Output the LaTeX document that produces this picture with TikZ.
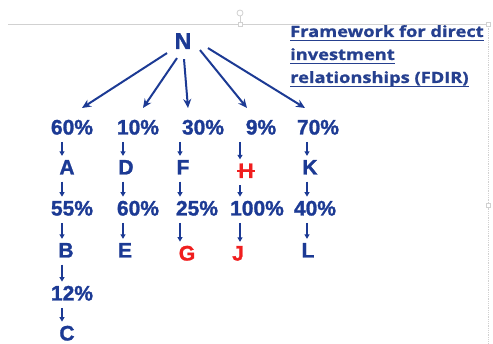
\documentclass[tikz,border=0pt]{standalone}
\usepackage{fontspec}
\setmainfont{Liberation Sans}[BoldFeatures={FakeBold=1.3}]
\newfontfamily\titlefont{Open Sans}[BoldFeatures={FakeBold=1}]
\usetikzlibrary{arrows.meta}
\definecolor{dblue}{HTML}{1C3A94}
\definecolor{tblue}{HTML}{26408F}
\definecolor{rred}{HTML}{F01E1E}
\tikzset{
  lbl/.style={font=\fontsize{21}{21}\selectfont\bfseries, text=dblue, inner sep=0pt, anchor=base},
  rlbl/.style={lbl, text=rred},
  bigarr/.style={draw=dblue, line width=2pt, -{Stealth[length=9pt,width=8pt]}},
  sarr/.style={draw=dblue, line width=1.1pt, -{Triangle[length=4.5pt,width=5pt]}, shorten <=7pt, shorten >=4pt},
  ttl/.style={font=\titlefont\fontsize{15.5}{15.5}\selectfont\bfseries, text=tblue, inner sep=0pt, anchor=base west},
  uline/.style={draw=tblue, line width=1.3pt},
  deco/.style={draw=black!18, line width=0.8pt}
}
\begin{document}
\begin{tikzpicture}[x=1pt,y=-1pt]
\useasboundingbox (0,0) rectangle (493,344);
% screenshot selection frame
\draw[deco] (8,24) -- (490,24);
\draw[deco, densely dotted] (488,24) -- (488,344);
\draw[deco] (240,24) -- (240,16);
\draw[deco, fill=white] (240,13) circle (3);
\draw[deco, fill=white] (238,22) rectangle (242,26);
\draw[deco, fill=white] (486,22) rectangle (490,26);
\draw[deco, fill=white] (486,203) rectangle (490,207);
% title
\node[ttl] (t1) at (290,37) {\scalebox{1.18}[1]{Framework for direct}};
\node[ttl] (t2) at (290,60) {\scalebox{1.18}[1]{investment}};
\node[ttl] (t3) at (290,83) {\scalebox{1.18}[1]{relationships (FDIR)}};
\draw[uline] ([yshift=-3.5pt]t1.base west) -- ([yshift=-3.5pt]t1.base east);
\draw[uline] ([yshift=-3.5pt]t2.base west) -- ([yshift=-3.5pt]t2.base east);
\draw[uline] ([yshift=-3.5pt]t3.base west) -- ([yshift=-3.5pt]t3.base east);
% root
\node[lbl, font=\fontsize{23}{23}\selectfont\bfseries] (N) at (183,49) {N};
\coordinate (e1) at (82,108);
\coordinate (e2) at (143,108);
\coordinate (e3) at (188,108);
\coordinate (e4) at (247,108);
\coordinate (e5) at (305,108);
% column x
\coordinate (c1) at (62,0);
\coordinate (c2) at (123,0);
\coordinate (c3) at (180,0);
\coordinate (c4) at (240,0);
\coordinate (c5) at (307,0);
% row 1
\node[lbl] (p1) at (72,134.5) {60\%};
\node[lbl] (p2) at (138,134.5) {10\%};
\node[lbl] (p3) at (203,134.5) {30\%};
\node[lbl] (p4) at (261,134.5) {9\%};
\node[lbl] (p5) at (318,134.5) {70\%};
% letters
\node[lbl] (A) at (67,174.5) {A};
\node[lbl] (D) at (126,174.5) {D};
\node[lbl] (F) at (183,174.5) {F};
\node[rlbl] (H) at (246,178) {H};
\node[lbl] (K) at (310,174.5) {K};
% row 2
\node[lbl] (q1) at (72,215.5) {55\%};
\node[lbl] (q2) at (138,215.5) {60\%};
\node[lbl] (q3) at (197,215.5) {25\%};
\node[lbl] (q4) at (257,215.5) {100\%};
\node[lbl] (q5) at (315,215.5) {40\%};
% row 3
\node[lbl] (B) at (66,257.5) {B};
\node[lbl] (E) at (125,257.5) {E};
\node[rlbl] (G) at (187,260.5) {G};
\node[rlbl] (J) at (238,260.5) {J};
\node[lbl] (L) at (308,257.5) {L};
\node[lbl] (r1) at (72,300.5) {12\%};
\node[lbl] (C) at (67,340.5) {C};
% strike through H
\draw[draw=rred, line width=1.2pt] ([xshift=-1pt,yshift=7pt]H.base west) -- ([xshift=1pt,yshift=7pt]H.base east);
% big arrows
\draw[bigarr] ([shift={(-16,12)}]N.center) -- (e1);
\draw[bigarr] ([shift={(-6,17)}]N.center) -- (e2);
\draw[bigarr] ([shift={(1,18)}]N.center) -- (e3);
\draw[bigarr] ([shift={(17,9)}]N.center) -- (e4);
\draw[bigarr] ([shift={(25,7)}]N.center) -- (e5);
% small arrows
\draw[sarr] (p1.south -| c1) -- (A.north -| c1);
\draw[sarr] (p2.south -| c2) -- (D.north -| c2);
\draw[sarr] (p3.south -| c3) -- (F.north -| c3);
\draw[sarr] (p4.south -| c4) -- (H.north -| c4);
\draw[sarr] (p5.south -| c5) -- (K.north -| c5);
\draw[sarr] (A.south -| c1) -- (q1.north -| c1);
\draw[sarr] (D.south -| c2) -- (q2.north -| c2);
\draw[sarr] (F.south -| c3) -- (q3.north -| c3);
\draw[sarr] (H.south -| c4) -- (q4.north -| c4);
\draw[sarr] (K.south -| c5) -- (q5.north -| c5);
\draw[sarr] (q1.south -| c1) -- (B.north -| c1);
\draw[sarr] (q2.south -| c2) -- (E.north -| c2);
\draw[sarr] (q3.south -| c3) -- (G.north -| c3);
\draw[sarr] (q4.south -| c4) -- (J.north -| c4);
\draw[sarr] (q5.south -| c5) -- (L.north -| c5);
\draw[sarr] (B.south -| c1) -- (r1.north -| c1);
\draw[sarr] (r1.south -| c1) -- (C.north -| c1);
\end{tikzpicture}
\end{document}
